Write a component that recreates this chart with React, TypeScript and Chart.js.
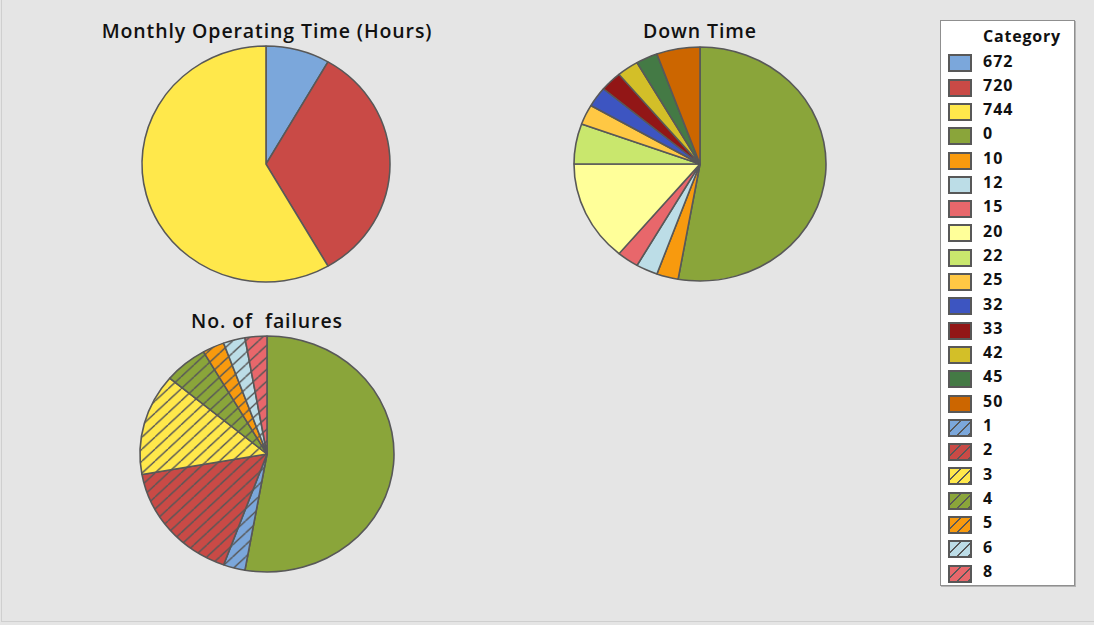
import React, { useEffect, useRef } from "react";
import { Chart, registerables } from "chart.js";

Chart.register(...registerables);

// Monthly operating time (hours) – number of months at each value
const operatingCategories = ["672", "720", "744"];
const operatingCounts = [3, 12, 21];

// Down time (hours) – number of months at each value
const downTimeCategories = ["0", "10", "12", "15", "20", "22", "25", "32", "33", "42", "45", "50"];
const downTimeCounts = [19, 1, 1, 1, 5, 2, 1, 1, 1, 1, 1, 2];

// Number of failures – number of months at each value
const failureCategories = ["0", "1", "2", "3", "4", "5", "6", "8"];
const failureCounts = [19, 1, 6, 5, 2, 1, 1, 1];

// Shared legend order
const legendCategories = [
  "672", "720", "744", "0", "10", "12", "15", "20", "22", "25", "32", "33", "42", "45", "50",
  "1", "2", "3", "4", "5", "6", "8",
];

const solidColors: Record<string, string> = {
  "672": "#7BA7DB",
  "720": "#C94A46",
  "744": "#FFE84B",
  "0": "#8AA53A",
  "10": "#F89A0E",
  "12": "#BCDDE7",
  "15": "#E8676B",
  "20": "#FFFF99",
  "22": "#C9E76D",
  "25": "#FFC844",
  "32": "#3D55C1",
  "33": "#921616",
  "42": "#D3BF28",
  "45": "#447A45",
  "50": "#CC6600",
};

const hatchedColors: Record<string, string> = {
  "1": "#7BA7DB",
  "2": "#C94A46",
  "3": "#FFE84B",
  "4": "#8AA53A",
  "5": "#F89A0E",
  "6": "#BCDDE7",
  "8": "#E8676B",
};

const EDGE = "#585858";
const FONT = "'Open Sans', 'Noto Sans', sans-serif";

function hatchPattern(color: string): CanvasPattern | string {
  const size = 12;
  const c = document.createElement("canvas");
  c.width = size;
  c.height = size;
  const g = c.getContext("2d");
  if (!g) return color;
  g.fillStyle = color;
  g.fillRect(0, 0, size, size);
  g.strokeStyle = EDGE;
  g.lineWidth = 1.4;
  g.beginPath();
  for (let k = -1; k <= 1; k++) {
    g.moveTo(k * size, size);
    g.lineTo(k * size + size, 0);
  }
  g.stroke();
  const p = g.createPattern(c, "repeat");
  return p || color;
}

function sliceFill(cat: string, hatched: boolean): CanvasPattern | string {
  if (hatched && hatchedColors[cat]) return hatchPattern(hatchedColors[cat]);
  return solidColors[cat];
}

// Stretch the pie horizontally so it is drawn as a slight ellipse
function ellipsePlugin(scaleX: number) {
  return {
    id: "ellipse",
    beforeDatasetsDraw(chart: any) {
      const { ctx, chartArea } = chart;
      const cx = (chartArea.left + chartArea.right) / 2;
      const cy = (chartArea.top + chartArea.bottom) / 2;
      ctx.save();
      ctx.translate(cx, cy);
      ctx.scale(scaleX, 1);
      ctx.translate(-cx, -cy);
    },
    afterDatasetsDraw(chart: any) {
      chart.ctx.restore();
    },
  };
}

const CW = 280;
const CH = 250;

function Pie(props: {
  categories: string[];
  counts: number[];
  hatched: boolean;
  cx: number;
  cy: number;
  rx: number;
  ry: number;
}) {
  const ref = useRef<HTMLCanvasElement>(null);
  const { categories, counts, hatched, cx, cy, rx, ry } = props;

  useEffect(() => {
    const canvas = ref.current;
    if (!canvas) return;
    const chart = new Chart(canvas, {
      type: "pie",
      data: {
        labels: categories,
        datasets: [
          {
            data: counts,
            backgroundColor: categories.map((c) => sliceFill(c, hatched && c !== "0")),
            borderColor: EDGE,
            borderWidth: 1.5,
          },
        ],
      },
      options: {
        responsive: false,
        animation: false,
        radius: ry,
        layout: { padding: 0 },
        plugins: {
          legend: { display: false },
          tooltip: { enabled: false },
          title: { display: false },
        },
      },
      plugins: [ellipsePlugin(rx / ry)],
    });
    return () => chart.destroy();
  }, []);

  return (
    <canvas
      ref={ref}
      width={CW}
      height={CH}
      style={{
        position: "absolute",
        left: cx - CW / 2,
        top: cy - CH / 2,
        width: CW,
        height: CH,
      }}
    />
  );
}

function Title(props: { text: string; cx: number; top: number }) {
  return (
    <div
      style={{
        position: "absolute",
        left: props.cx - 250,
        top: props.top,
        width: 500,
        textAlign: "center",
        fontFamily: FONT,
        fontWeight: 600,
        fontSize: 19.5,
        lineHeight: "22px",
        letterSpacing: "0.9px",
        color: "#111",
        whiteSpace: "pre",
      }}
    >
      {props.text}
    </div>
  );
}

function Legend() {
  const left = 940;
  const top = 20;
  const pitch = 24.3;
  return (
    <div
      style={{
        position: "absolute",
        left,
        top,
        width: 135,
        height: 566,
        boxSizing: "border-box",
        background: "#ffffff",
        border: "1px solid #8f8f8f",
        boxShadow: "1px 1px 0 #b4b4b4",
        fontFamily: FONT,
      }}
    >
      <div
        style={{
          position: "absolute",
          left: 42,
          top: 5,
          fontWeight: 700,
          fontSize: 16,
          lineHeight: "20px",
          letterSpacing: "0.8px",
          color: "#111",
        }}
      >
        Category
      </div>
      {legendCategories.map((cat, i) => {
        const y = 33.3 + pitch * i - top + 20;
        const isHatched = i >= 15;
        const color = isHatched ? hatchedColors[cat] : solidColors[cat];
        const bg = isHatched
          ? `repeating-linear-gradient(135deg, ${color} 0px, ${color} 6.5px, ${EDGE} 6.5px, ${EDGE} 8px)`
          : color;
        return (
          <React.Fragment key={cat + "-" + i}>
            <div
              style={{
                position: "absolute",
                left: 7,
                top: y,
                width: 24,
                height: 18,
                boxSizing: "border-box",
                border: `2px solid ${EDGE}`,
                background: bg,
              }}
            />
            <div
              style={{
                position: "absolute",
                left: 42,
                top: y - 2.8,
                fontWeight: 700,
                fontSize: 16,
                lineHeight: "18px",
                color: "#111",
                letterSpacing: "1px",
              }}
            >
              {cat}
            </div>
          </React.Fragment>
        );
      })}
    </div>
  );
}

export default function App() {
  return (
    <div
      style={{
        position: "absolute",
        left: 0,
        top: 0,
        width: 1094,
        height: 625,
        background: "#e5e5e5",
        overflow: "hidden",
      }}
    >
      <div
        style={{
          position: "absolute",
          left: 1,
          top: 0,
          width: 1093,
          height: 622,
          boxSizing: "border-box",
          borderLeft: "1px solid #cfcfcf",
          borderBottom: "1px solid #cfcfcf",
        }}
      />
      <Title text="Monthly Operating Time (Hours)" cx={267} top={20} />
      <Title text="Down Time" cx={700} top={20} />
      <Title text={"No. of  failures"} cx={267} top={310} />
      <Pie categories={operatingCategories} counts={operatingCounts} hatched={false} cx={266} cy={164} rx={124} ry={118} />
      <Pie categories={downTimeCategories} counts={downTimeCounts} hatched={false} cx={700} cy={164} rx={126} ry={117} />
      <Pie categories={failureCategories} counts={failureCounts} hatched={true} cx={267} cy={454} rx={127} ry={118} />
      <Legend />
    </div>
  );
}
